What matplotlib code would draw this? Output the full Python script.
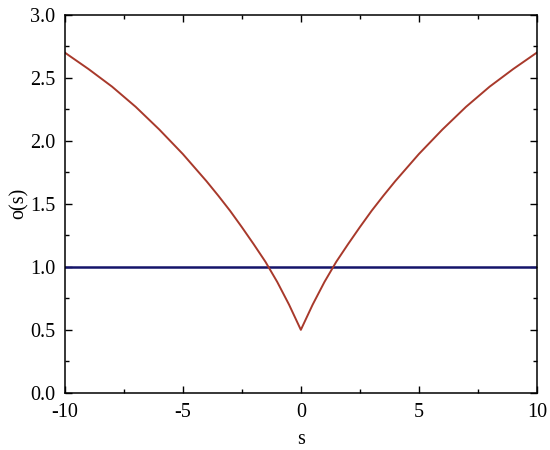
import matplotlib
import numpy as np

matplotlib.use('Agg')
import matplotlib.pyplot as plt
from matplotlib.ticker import MultipleLocator, FormatStrFormatter

# values (curve is symmetric about s = 0)
s_half = [0, 0.5, 1, 1.5, 2, 2.5, 3, 3.5, 4, 5, 6, 7, 8, 9, 10]
o_half = [0.50, 0.70, 0.88, 1.04, 1.18, 1.315, 1.445, 1.565, 1.68,
          1.895, 2.09, 2.27, 2.43, 2.57, 2.70]

s_curve = [-v for v in s_half[:0:-1]] + s_half
o_curve = o_half[:0:-1] + o_half

s_flat = [-10, 10]
o_flat = [1.0, 1.0]

plt.rcParams['font.family'] = ['Liberation Serif', 'DejaVu Serif']
plt.rcParams['axes.unicode_minus'] = False

fig = plt.figure(figsize=(5.5, 4.5), dpi=100)
ax = fig.add_axes([0.118, 0.127, 0.858, 0.84])

ax.plot(s_flat, o_flat, color='#14146a', linewidth=1.8)
ax.plot(s_curve, o_curve, color='#a8392b', linewidth=1.4)

ax.set_xlim(-10, 10)
ax.set_ylim(0, 3)
ax.xaxis.set_major_locator(MultipleLocator(5))
ax.xaxis.set_minor_locator(MultipleLocator(2.5))
ax.yaxis.set_major_locator(MultipleLocator(0.5))
ax.yaxis.set_minor_locator(MultipleLocator(0.25))
ax.yaxis.set_major_formatter(FormatStrFormatter('%.1f'))

ax.tick_params(which='both', direction='in', top=True, right=True,
               labelsize=14.5, width=1.0, pad=7)
ax.tick_params(which='major', length=5)
ax.tick_params(which='minor', length=3)
for sp in ax.spines.values():
    sp.set_linewidth(1.1)

ax.set_xlabel('s', fontsize=14.5, labelpad=6)
ax.set_ylabel('o(s)', fontsize=14.5, labelpad=1)

fig.savefig('out.png', dpi=100)
